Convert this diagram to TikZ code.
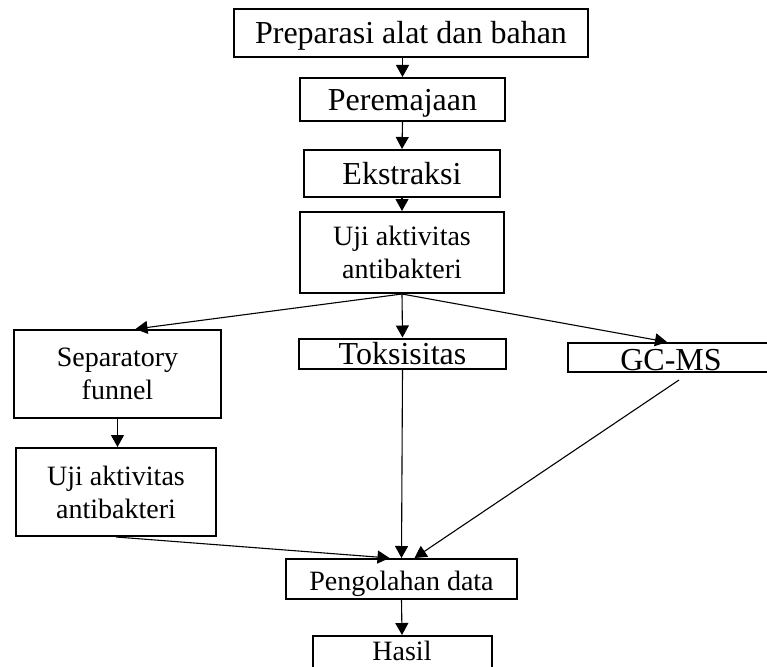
\documentclass[tikz,border=0pt]{standalone}
\usepackage{fontspec}
\setmainfont{Liberation Serif}
\usepackage{tikz}
\usetikzlibrary{arrows.meta}
\tikzset{
	stage/.style    = {draw, line width = 2pt, rectangle, inner sep = 0pt,
		font = \fontsize{32}{36}\selectfont, text height = 26pt, text depth = 4pt},
	substage/.style = {draw, line width = 2pt, rectangle, inner sep = 0pt,
		font = \fontsize{28}{32}\selectfont, text height = 24pt, text depth = 2pt},
	twoline/.style  = {draw, line width = 2pt, rectangle, inner sep = 0pt,
		align = center, font = \fontsize{28}{33}\selectfont},
	flow/.style     = {->, line width = 1.1pt}
}

\begin{document}
\begin{tikzpicture}[auto, x=1pt, y=-1pt, >={Triangle[length=12pt, width=13pt]}]
	\useasboundingbox (0,0) rectangle (767,666);
	\clip (0,0) rectangle (767,666);
	\draw
	node at (411,33) [stage, minimum width = 354, minimum height = 48] (prep) {Preparasi alat dan bahan}
	node at (402.5,99.5) [stage, minimum width = 205, minimum height = 43] (rem) {Peremajaan}
	node at (402,173.5) [stage, minimum width = 196, minimum height = 47] (eks) {Ekstraksi}
	node at (402,252.5) [twoline, minimum width = 204, minimum height = 81] (uji1) {Uji aktivitas\\antibakteri}
	node at (117.5,374) [twoline, minimum width = 207, minimum height = 88] (sep) {Separatory\\funnel}
	node at (116,492) [twoline, minimum width = 200, minimum height = 88] (uji2) {Uji aktivitas\\antibakteri}
	node at (402.5,353.5) [stage, minimum width = 207, minimum height = 30] (tok) {Toksisitas}
	node at (671,357.5) [stage, text height = 27pt, text depth = 2pt,
		minimum width = 206, minimum height = 29] (gc) {GC-MS}
	node at (401.5,579) [substage, minimum width = 231, minimum height = 40] (peng) {Pengolahan data}
	node at (402,656) [substage, text height = 18pt, text depth = 10pt,
		minimum width = 179, minimum height = 40] (hasil) {Hasil};
	
	\draw[flow](rem.north |- prep.south)--(rem.north);
	\draw[flow](rem.south)--(eks.north);
	\draw[flow](eks.south)--(uji1.north);
	\draw[flow](uji1.south)--([xshift=18pt]sep.north);
	\draw[flow](uji1.south)--(tok.north);
	\draw[flow](uji1.south)--([xshift=-4pt]gc.north);
	\draw[flow](sep.south)--(sep.south |- uji2.north);
	\draw[flow](tok.south)--(peng.north);
	\draw[flow](uji2.south)--([xshift=-12pt]peng.north);
	\draw[flow]([xshift=8pt,yshift=-7pt]gc.south)--([xshift=13pt]peng.north);
	\draw[flow](peng.south)--(hasil.north);
	
\end{tikzpicture}
\end{document}
